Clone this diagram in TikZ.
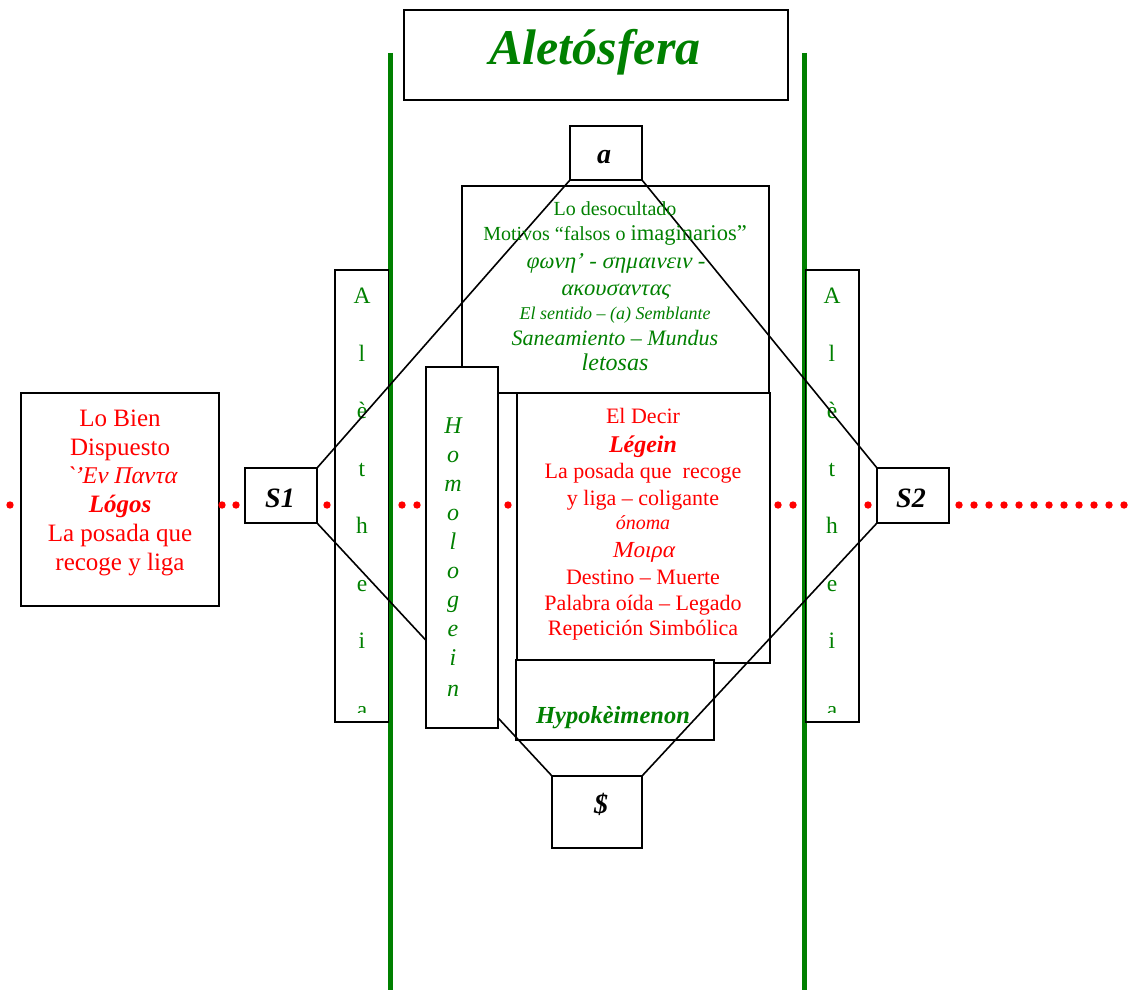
\documentclass[tikz,border=0pt]{standalone}
\usepackage{fontspec}
\setmainfont{Liberation Serif}
\newfontfamily\grk[FakeSlant=0.2]{Liberation Serif}
\definecolor{dgreen}{RGB}{0,128,0}
\newcommand\fs[1]{\fontsize{#1}{#1}\selectfont}
\tikzset{
  box/.style={draw=black, line width=1.6pt, inner sep=0pt, outer sep=0pt, anchor=north west},
  wbox/.style={box, fill=white},
  conn/.style={draw=black, line width=1.6pt},
  rt/.style={text=red, anchor=base, inner sep=0pt},
  gt/.style={text=dgreen, anchor=base, inner sep=0pt},
  bt/.style={text=black, anchor=base, inner sep=0pt, font=\bfseries\itshape\fs{28}},
  gline/.style={draw=dgreen, line width=4.5pt},
  rdot/.style={fill=red},
  lett/.style={gt, font=\fs{23.5}},
  hlett/.style={gt, font=\itshape\fs{24}}
}
\begin{document}
\begin{tikzpicture}[x=1pt,y=-1pt]
\useasboundingbox (0,0) rectangle (1132,990);
% green vertical lines
\draw[gline] (390.5,53) -- (390.5,990);
\draw[gline] (804.5,53) -- (804.5,990);
% Aletheia columns
\node[box, minimum width=53.5pt, minimum height=452pt] (alL) at (335,270) {};
\node[box, minimum width=53.5pt, minimum height=452pt] (alR) at (805.5,270) {};
\begin{scope}
\clip (335,270) rectangle (389,712);
\foreach \c/\y [count=\i] in {A/303,l/361,è/418,t/476,h/533,e/591,i/648,a/717}{
  \node[lett] (aL\i) at (362,\y) {\c};
}
\end{scope}
\begin{scope}
\clip (805,270) rectangle (859,712);
\foreach \c/\y [count=\i] in {A/303,l/361,è/418,t/476,h/533,e/591,i/648,a/717}{
  \node[lett] (aR\i) at (832,\y) {\c};
}
\end{scope}
% title
\node[box, minimum width=384pt, minimum height=90pt] (title) at (404,10) {};
\node[gt, font=\bfseries\itshape\fs{50}] (titletext) at (595,65) {Aletósfera};
% upper and lower central boxes
\node[box, minimum width=307pt, minimum height=207pt] (upper) at (462,186) {};
\node[box, minimum width=253pt, minimum height=270pt] (lower) at (517,393) {};
\node[wbox, minimum width=198pt, minimum height=80pt] (hypo) at (516,660) {};
\node[gt, font=\bfseries\itshape\fs{24.5}] (hypotext) at (613,723) {Hypokèimenon};
% small boxes
\node[box, minimum width=72pt, minimum height=54pt] (a) at (570,126) {};
\node[box, minimum width=72pt, minimum height=55pt] (S1) at (245,468) {};
\node[box, minimum width=72pt, minimum height=55pt] (S2) at (877,468) {};
\node[box, minimum width=90pt, minimum height=72pt] (S) at (552,776) {};
% connectors
\draw[conn] (a.south west) -- (S1.north east);
\draw[conn] (a.south east) -- (S2.north west);
\draw[conn] (S1.south east) -- (S.north west);
\draw[conn] (S2.south west) -- (S.north east);
% Homologein
\node[wbox, minimum width=72pt, minimum height=361pt] (homo) at (426,367) {};
\foreach \c/\y [count=\i] in {H/433,o/462,m/491,o/520,l/549,o/578,g/607,e/636,i/665,n/696}{
  \node[hlett] (h\i) at (453,\y) {\c};
}
% labels of small boxes
\node[bt] (atext) at (604,163) {a};
\node[bt] (S1text) at (280,507) {S1};
\node[bt] (S2text) at (911,507) {S2};
\node[bt] (Stext) at (601,813) {\$};
% left box
\node[box, minimum width=198pt, minimum height=213pt] (left) at (21,393) {};
\node[rt, font=\fs{25}] (lb1) at (120,426) {Lo Bien};
\node[rt, font=\fs{25}] (lb2) at (120,455) {Dispuesto};
\node[rt, font=\grk\fs{24}] (lb3) at (121,483) {`’Εν Παντα};
\node[rt, font=\bfseries\itshape\fs{25}] (lb4) at (120,512) {Lógos};
\node[rt, font=\fs{25}] (lb5) at (120,541) {La posada que};
\node[rt, font=\fs{25}] (lb6) at (120,570) {recoge y liga};
% upper box text
\node[gt, font=\fs{20}] (u1) at (615,215) {Lo desocultado};
\node[gt] (u2) at (615,240) {{\fs{20}Motivos “falsos o }{\fs{22.5}imaginarios”}};
\node[gt, font=\grk\fs{22.5}] (u3) at (615,268) {φωνη’ - σημαινειν -};
\node[gt, font=\grk\fs{22.5}] (u4) at (615,295) {ακουσαντας};
\node[gt, font=\itshape\fs{18}] (u5) at (615,319) {El sentido – (a) Semblante};
\node[gt, font=\itshape\fs{22}] (u6) at (615,345) {Saneamiento – Mundus};
\node[gt, font=\itshape\fs{24}] (u7) at (615,370) {letosas};
% lower box text
\node[rt, font=\fs{22}] (l1) at (643,423) {El Decir};
\node[rt, font=\bfseries\itshape\fs{24}] (l2) at (643,452) {Légein};
\node[rt, font=\fs{22}] (l3) at (643,478) {La posada que\ \ recoge};
\node[rt, font=\fs{22}] (l4) at (643,505) {y liga – coligante};
\node[rt, font=\itshape\fs{20}] (l5) at (643,529) {ónoma};
\node[rt, font=\grk\fs{23}] (l6) at (643,557) {Μοιρα};
\node[rt, font=\fs{22}] (l7) at (643,584) {Destino – Muerte};
\node[rt, font=\fs{22}] (l8) at (643,610) {Palabra oída – Legado};
\node[rt, font=\fs{22}] (l9) at (643,635) {Repetición Simbólica};
% red dots
\foreach \x in {10,222,236,327,402,417,508,778,793,868}{
  \fill[rdot] (\x,505) circle (3.7pt);
}
\foreach \k in {0,...,11}{
  \fill[rdot] (959+15*\k,505) circle (3.7pt);
}
\end{tikzpicture}
\end{document}
